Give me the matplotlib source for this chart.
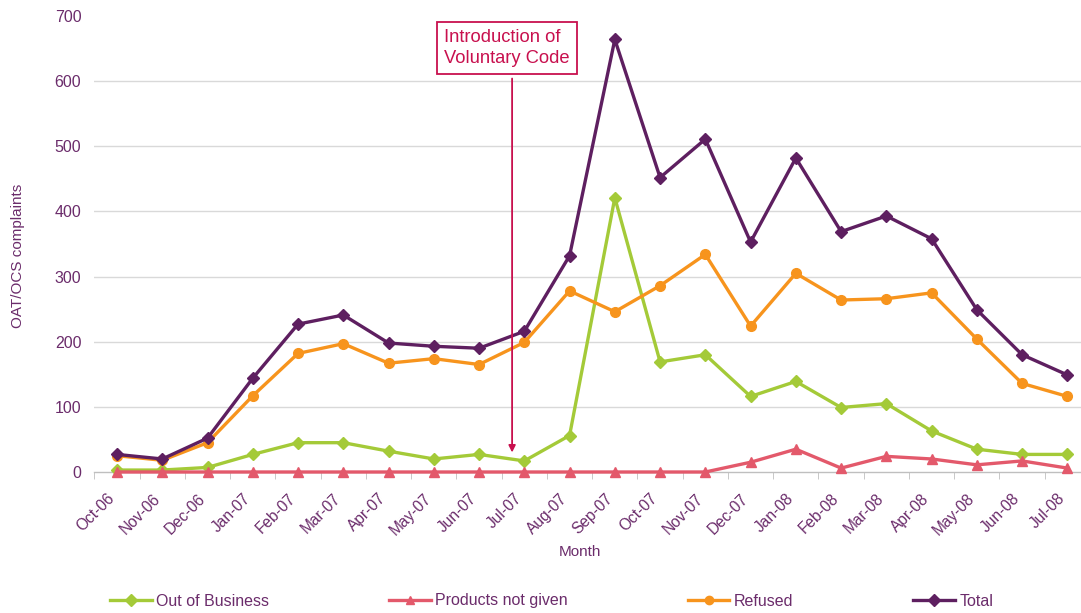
import matplotlib
matplotlib.use("Agg")
import matplotlib.pyplot as plt
from matplotlib.ticker import FixedLocator, NullFormatter
from matplotlib.transforms import ScaledTranslation

plt.rcParams['font.family'] = ['Liberation Sans', 'DejaVu Sans']

months = ["Oct-06", "Nov-06", "Dec-06", "Jan-07", "Feb-07", "Mar-07", "Apr-07",
          "May-07", "Jun-07", "Jul-07", "Aug-07", "Sep-07", "Oct-07", "Nov-07",
          "Dec-07", "Jan-08", "Feb-08", "Mar-08", "Apr-08", "May-08", "Jun-08", "Jul-08"]

out_of_business = [3, 3, 7, 27, 45, 45, 32, 20, 27, 17, 56, 421, 169, 180,
                   116, 139, 99, 105, 63, 35, 27, 27]
products_not_given = [0, 0, 0, 0, 0, 0, 0, 0, 0, 0, 0, 0, 0, 0,
                      15, 35, 6, 24, 20, 11, 17, 6]
refused = [25, 18, 45, 117, 182, 197, 167, 174, 165, 199, 278, 246, 286, 334,
           224, 305, 264, 266, 275, 204, 136, 116]
total = [27, 20, 52, 144, 227, 241, 198, 193, 190, 216, 332, 664, 452, 511,
         353, 482, 369, 393, 358, 249, 180, 149]

y_ticks = [0, 100, 200, 300, 400, 500, 600, 700]

TEXT = "#6B2C6B"
GREEN = "#A4CA38"
RED = "#E3596B"
ORANGE = "#F7941D"
PURPLE = "#5E1F60"
NOTE = "#C8104E"

fig = plt.figure(figsize=(10.81, 6.13), dpi=100)
ax = fig.add_axes([94.4 / 1081, 141 / 613, (1090 - 94.4) / 1081, 456 / 613])

x = list(range(len(months)))

ax.plot(x, out_of_business, color=GREEN, lw=2.4, marker="D", ms=6.5,
        label="Out of Business", zorder=3, clip_on=False)
ax.plot(x, products_not_given, color=RED, lw=2.4, marker="^", ms=7.5,
        label="Products not given", zorder=3, clip_on=False)
ax.plot(x, refused, color=ORANGE, lw=2.4, marker="o", ms=7,
        label="Refused", zorder=3, clip_on=False)
ax.plot(x, total, color=PURPLE, lw=2.4, marker="D", ms=6.5,
        label="Total", zorder=4, clip_on=False)

ax.set_xlim(-0.5, len(months) - 0.5)
ax.set_ylim(0, 700)

# horizontal gridlines (none at the top)
for v in y_ticks[1:-1]:
    ax.axhline(v, color="#D9D9D9", lw=1.0, zorder=1)

ax.set_yticks(y_ticks)
ax.set_yticklabels([str(v) for v in y_ticks])
ax.tick_params(axis="y", length=0, labelsize=11.5, labelcolor=TEXT, pad=9.4)

# month labels: rotated, set slightly left of and below each category
ax.set_xticks(x)
ax.set_xticklabels([])
ax.tick_params(axis="x", which="major", length=0)
label_tr = ax.get_xaxis_transform() + ScaledTranslation(-10 / 100, -19 / 100,
                                                        fig.dpi_scale_trans)
for i, m in enumerate(months):
    ax.text(i, 0, m, transform=label_tr, rotation=45, ha="right", va="top",
            rotation_mode="anchor", fontsize=11.2, color=TEXT)

ax.xaxis.set_minor_locator(FixedLocator([i - 0.5 for i in range(len(months) + 1)]))
ax.xaxis.set_minor_formatter(NullFormatter())
ax.tick_params(axis="x", which="minor", length=5, color="#BFBFBF")

for side in ("top", "right", "left"):
    ax.spines[side].set_visible(False)
ax.spines["bottom"].set_color("#BFBFBF")
ax.spines["bottom"].set_linewidth(1.0)

fig.text(18 / 1081, 1 - 256 / 613, "OAT/OCS complaints", rotation=90,
         ha="center", va="center", color=TEXT, fontsize=11)
fig.text(580 / 1081, 1 - 552 / 613, "Month", ha="center", va="center",
         color=TEXT, fontsize=11)

# Voluntary code annotation
ax.annotate("", xy=(8.73, 30), xytext=(8.73, 604),
            arrowprops=dict(arrowstyle="-|>", color=NOTE, lw=1.3,
                            mutation_scale=10, shrinkA=0, shrinkB=0),
            zorder=5)
fig.text(444 / 1081, 1 - 48 / 613, "Introduction of\nVoluntary Code",
         ha="left", va="center", color=NOTE, fontsize=13.2, linespacing=1.3,
         bbox=dict(boxstyle="square,pad=0.38", fc="white", ec=NOTE, lw=1.3))

leg = fig.legend(loc="center left", bbox_to_anchor=(110 / 1081, 1 - 601 / 613),
                 bbox_transform=fig.transFigure, ncol=4, frameon=False,
                 fontsize=11.5, handlelength=2.6, handletextpad=0.3,
                 columnspacing=7.5, borderpad=0, borderaxespad=0)
for t in leg.get_texts():
    t.set_color(TEXT)
for h in leg.legend_handles:
    h.set_markersize(6)

fig.savefig("out.png", dpi=100)
